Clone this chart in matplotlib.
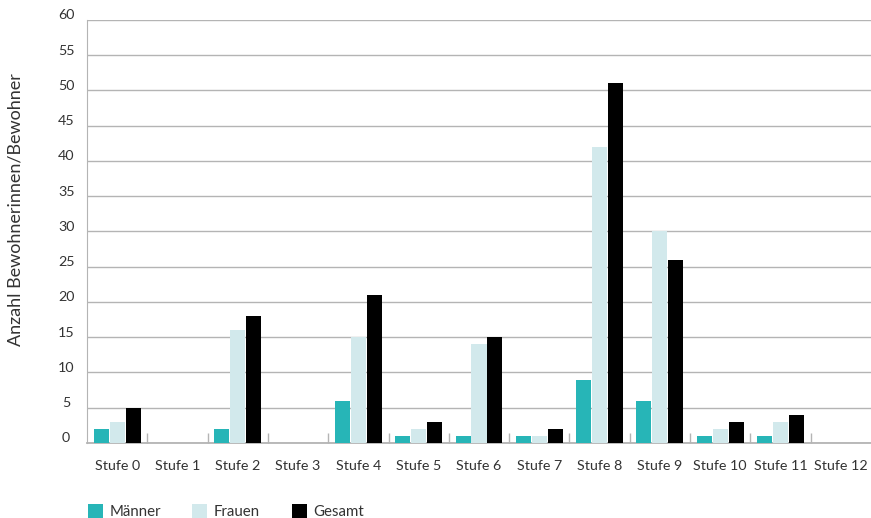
import numpy as np
import matplotlib
matplotlib.use("Agg")
import matplotlib.pyplot as plt
import matplotlib.transforms as mtransforms
from matplotlib.patches import Patch

# data
stufen = ["Stufe 0", "Stufe 1", "Stufe 2", "Stufe 3", "Stufe 4", "Stufe 5", "Stufe 6",
          "Stufe 7", "Stufe 8", "Stufe 9", "Stufe 10", "Stufe 11", "Stufe 12"]
maenner = [2, 0, 2, 0, 6, 1, 1, 1, 9, 6, 1, 1, 0]
frauen = [3, 0, 16, 0, 15, 2, 14, 1, 42, 30, 2, 3, 0]
gesamt = [5, 0, 18, 0, 21, 3, 15, 2, 51, 26, 3, 4, 0]

series_names = ["Männer", "Frauen", "Gesamt"]
colors = ["#27b5b7", "#d2e9ec", "#000000"]

plt.rcParams['font.family'] = ['Lato', 'DejaVu Sans']
text_col = "#333333"
grid_col = "#b4b4b4"

fig = plt.figure(figsize=(8.71, 5.18), dpi=100)
ax = fig.add_axes([0.0999, 0.1448, 0.9001, 0.8166])

x = np.arange(len(stufen))
bw = 0.249
step = 0.265
for i, (vals, col) in enumerate(zip([maenner, frauen, gesamt], colors)):
    ax.bar(x + (i - 1) * step, vals, width=bw, color=col, zorder=3)

ax.set_xlim(-0.5, len(stufen) - 0.5)
ax.set_ylim(0, 60)
ax.set_yticks(np.arange(0, 61, 5))
ax.yaxis.grid(True, color=grid_col, linewidth=1, zorder=0)

for s in ["top", "right"]:
    ax.spines[s].set_visible(False)
ax.spines["left"].set_color(grid_col)
ax.spines["bottom"].set_color(grid_col)
ax.spines["bottom"].set_linewidth(1.3)

ax.set_xticks(x)
ax.set_xticklabels(stufen)
ax.set_xticks(np.arange(0.5, len(stufen) - 0.5, 1), minor=True)
ax.tick_params(axis="x", which="major", length=0, pad=12, labelsize=10.3, labelcolor=text_col)
ax.tick_params(axis="x", which="minor", direction="in", length=7.5, color=grid_col, width=1)
ax.tick_params(axis="y", length=0, pad=12, labelsize=10.3, labelcolor=text_col)

# y tick labels centred and nudged up a bit like the original
off = mtransforms.ScaledTranslation(-3 / 72, 4 / 72, fig.dpi_scale_trans)
for lab in ax.get_yticklabels():
    lab.set_horizontalalignment("center")
    lab.set_transform(lab.get_transform() + off)

fig.text(0.018, 0.595, "Anzahl Bewohnerinnen/Bewohner", rotation=90, ha="center", va="center",
         fontsize=13, color=text_col)

handles = [Patch(facecolor=c, edgecolor="none") for c in colors]
fig.legend(handles, series_names, loc="lower left", bbox_to_anchor=(0.085, -0.028), ncol=3,
           frameon=False, fontsize=10.8, handlelength=1.0, handleheight=1.0, handletextpad=0.45,
           columnspacing=2.1, labelcolor=text_col)

fig.savefig("out.png", dpi=100)
